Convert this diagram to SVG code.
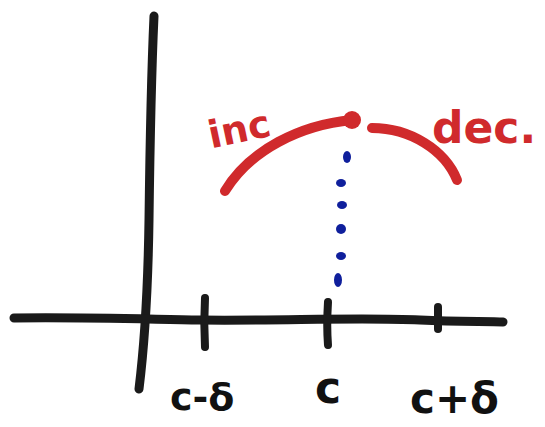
<svg xmlns="http://www.w3.org/2000/svg" width="545" height="427" viewBox="0 0 545 427">
<style>
.ax{fill:none;stroke:#1a1a1a;stroke-width:9;stroke-linecap:round;stroke-linejoin:round}
.tk{fill:none;stroke:#1a1a1a;stroke-width:8;stroke-linecap:round}
.red{fill:none;stroke:#d02a2c;stroke-width:10;stroke-linecap:round}
.lbl{font-family:"DejaVu Sans","Liberation Sans",sans-serif;font-weight:bold;fill:#111}
.rlbl{font-family:"DejaVu Sans","Liberation Sans",sans-serif;font-weight:bold;fill:#d02a2c}
.dot{fill:#0f1f9c}
</style>
<rect width="545" height="427" fill="#fff"/>
<g id="axes">
<path class="ax" d="M154,16 C152,60 150,140 149,220 C148,290 145,340 139,389"/>
<path class="ax" d="M14,318 C80,317 140,319 200,320 C280,321 360,317 420,320 C460,322 490,321 503,322"/>
</g>
<g id="ticks">
<path class="tk" d="M205,298 C204,315 204,330 205,347"/>
<path class="tk" d="M328,302 C327,318 327,332 328,345"/>
<path class="tk" d="M438,307 L438,329"/>
</g>
<g id="labels">
<text class="lbl" x="170" y="410" font-size="38">c-δ</text>
<text class="lbl" x="315" y="403" font-size="44">c</text>
<text class="lbl" x="410" y="413" font-size="42">c+δ</text>
</g>
<g id="curve">
<path class="red" d="M225,191 C250,150 300,125 352,120"/>
<circle cx="352" cy="120" r="9" fill="#d02a2c"/>
<path class="red" d="M372,128 C410,128 445,150 457,180"/>
<text class="rlbl" x="207" y="142" font-size="38" transform="rotate(-12 240 125)">inc</text>
<text class="rlbl" x="432" y="143" font-size="44">dec.</text>
</g>
<g id="dotted">
<ellipse class="dot" cx="347" cy="157" rx="4" ry="6"/>
<ellipse class="dot" cx="341" cy="183" rx="5" ry="4"/>
<ellipse class="dot" cx="342" cy="205" rx="5" ry="4"/>
<ellipse class="dot" cx="341" cy="229" rx="5" ry="5"/>
<ellipse class="dot" cx="341" cy="256" rx="5" ry="4"/>
<ellipse class="dot" cx="338" cy="280" rx="4" ry="7"/>
</g>
</svg>
